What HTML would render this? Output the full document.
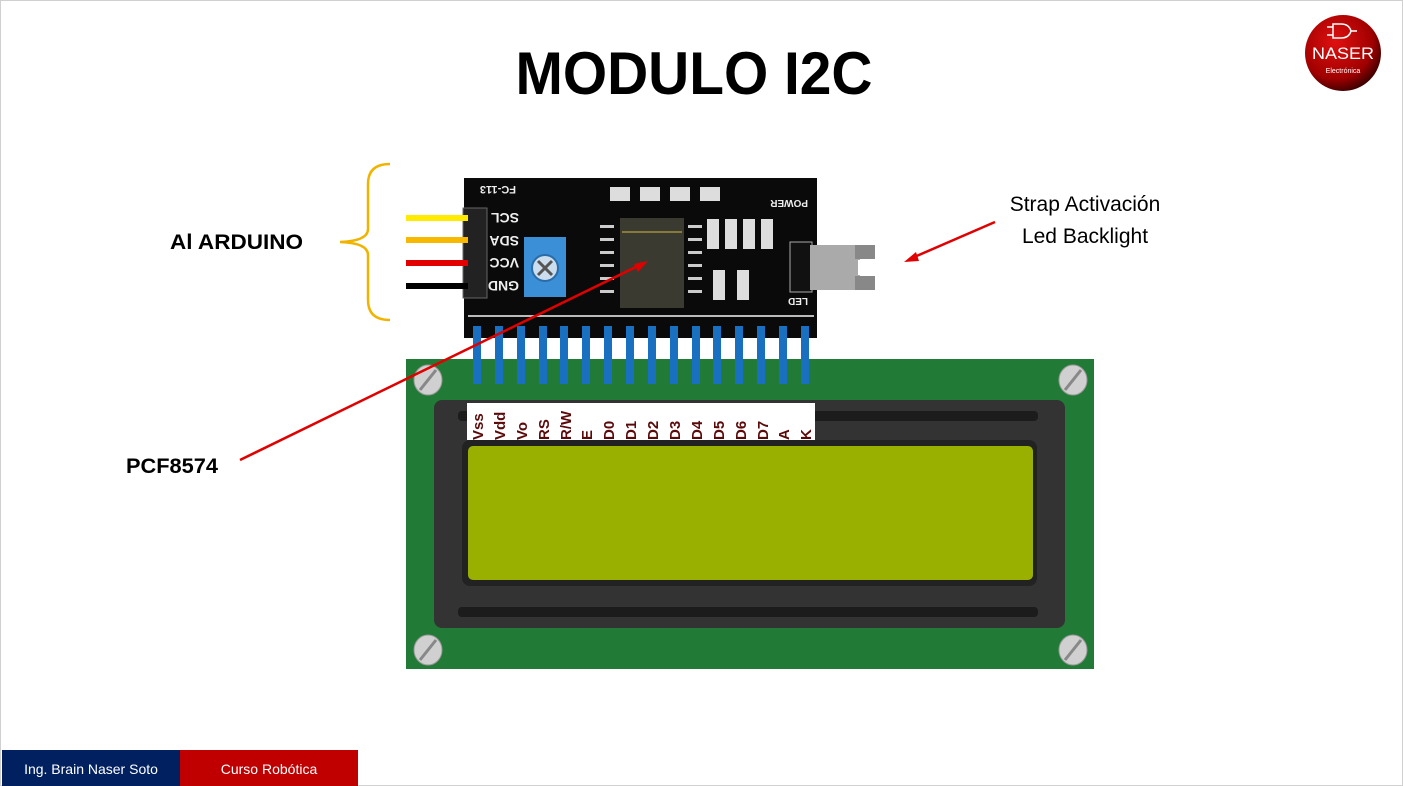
<!DOCTYPE html>
<html><head><meta charset="utf-8"><style>
html,body{margin:0;padding:0;background:#fff}
svg{display:block}
text{font-family:"Liberation Sans",sans-serif}
</style></head><body>
<svg width="1403" height="786" viewBox="0 0 1403 786" xmlns="http://www.w3.org/2000/svg">
<rect x="0.5" y="0.5" width="1402" height="785" fill="#fff" stroke="#d0d0d0"/>
<text x="694" y="94" text-anchor="middle" font-size="60" font-weight="bold" textLength="357" lengthAdjust="spacingAndGlyphs">MODULO I2C</text>
<defs><radialGradient id="lg" cx="0.4" cy="0.35" r="0.7"><stop offset="0" stop-color="#e01010"/><stop offset="0.7" stop-color="#a00000"/><stop offset="1" stop-color="#300000"/></radialGradient></defs>
<circle cx="1343" cy="53" r="38" fill="url(#lg)"/>
<path d="M1333 24 h8 q8 0 10 7 q-2 7 -10 7 h-8 z M1327 27 h6 M1327 35 h6 M1351 31 h6" stroke="#fff" stroke-width="1.5" fill="none"/>
<text x="1343" y="59" text-anchor="middle" font-size="17" fill="#fff" textLength="62" lengthAdjust="spacingAndGlyphs">NASER</text>
<text x="1343" y="73" text-anchor="middle" font-size="7" fill="#fff">Electrónica</text>
<text x="170" y="249" font-size="21" font-weight="bold" textLength="133" lengthAdjust="spacingAndGlyphs">Al ARDUINO</text>
<path d="M390 164 q-22 0 -22 20 v45 q0 12 -28 13 q28 1 28 13 v45 q0 20 22 20" fill="none" stroke="#f0b400" stroke-width="2.5"/>
<text x="126" y="473" font-size="21" font-weight="bold" textLength="92" lengthAdjust="spacingAndGlyphs">PCF8574</text>
<rect x="406" y="359" width="688" height="310" fill="#217b36"/>
<rect x="434" y="400" width="631" height="228" rx="8" fill="#333"/>
<rect x="458" y="411" width="580" height="10" rx="4" fill="#1c1c1c"/>
<rect x="458" y="607" width="580" height="10" rx="4" fill="#1c1c1c"/>
<rect x="462" y="440" width="575" height="146" rx="8" fill="#222"/>
<rect x="468" y="446" width="565" height="134" rx="5" fill="#99b000"/>
<g fill="#d0d0d0" stroke="#999" stroke-width="1">
<ellipse cx="428" cy="380" rx="14" ry="15"/><ellipse cx="1073" cy="380" rx="14" ry="15"/>
<ellipse cx="428" cy="650" rx="14" ry="15"/><ellipse cx="1073" cy="650" rx="14" ry="15"/>
</g>
<g stroke="#888" stroke-width="3">
<line x1="420" y1="390" x2="436" y2="370"/><line x1="1065" y1="390" x2="1081" y2="370"/>
<line x1="420" y1="660" x2="436" y2="640"/><line x1="1065" y1="660" x2="1081" y2="640"/>
</g>
<rect x="467" y="403" width="348" height="37" fill="#fff"/>
<g font-size="15" font-weight="bold" fill="#5a0a0a">
<text transform="translate(483,440) rotate(-90)">Vss</text>
<text transform="translate(505,440) rotate(-90)">Vdd</text>
<text transform="translate(527,440) rotate(-90)">Vo</text>
<text transform="translate(549,440) rotate(-90)">RS</text>
<text transform="translate(571,440) rotate(-90)">R/W</text>
<text transform="translate(592,440) rotate(-90)">E</text>
<text transform="translate(614,440) rotate(-90)">D0</text>
<text transform="translate(636,440) rotate(-90)">D1</text>
<text transform="translate(658,440) rotate(-90)">D2</text>
<text transform="translate(680,440) rotate(-90)">D3</text>
<text transform="translate(702,440) rotate(-90)">D4</text>
<text transform="translate(724,440) rotate(-90)">D5</text>
<text transform="translate(746,440) rotate(-90)">D6</text>
<text transform="translate(768,440) rotate(-90)">D7</text>
<text transform="translate(789,440) rotate(-90)">A</text>
<text transform="translate(811,440) rotate(-90)">K</text>
</g>
<rect x="464" y="178" width="353" height="160" fill="#0a0a0a"/>
<line x1="468" y1="316" x2="814" y2="316" stroke="#bbb" stroke-width="2"/>
<rect x="463" y="208" width="24" height="90" fill="#222" stroke="#666"/>
<g font-size="14" font-weight="bold" fill="#eee">
<text transform="translate(519,213) rotate(180)">SCL</text>
<text transform="translate(519,236) rotate(180)">SDA</text>
<text transform="translate(519,258) rotate(180)">VCC</text>
<text transform="translate(519,281) rotate(180)">GND</text>
<text transform="translate(516,186) rotate(180)" font-size="11">FC-113</text>
<text transform="translate(808,200) rotate(180)" font-size="10">POWER</text>
<text transform="translate(808,298) rotate(180)" font-size="10">LED</text>
</g>
<rect x="524" y="237" width="42" height="60" fill="#3a8fd6"/>
<circle cx="545" cy="268" r="13" fill="#cde" stroke="#2a6ca8" stroke-width="2"/>
<path d="M538 261 l14 14 M552 261 l-14 14" stroke="#555" stroke-width="3"/>
<rect x="620" y="218" width="64" height="90" fill="#3a3a30"/>
<line x1="622" y1="232" x2="682" y2="232" stroke="#a0903a" stroke-width="1.5"/>
<g fill="#ccc"><rect x="600" y="225" width="14" height="3"/><rect x="600" y="238" width="14" height="3"/><rect x="600" y="251" width="14" height="3"/><rect x="600" y="264" width="14" height="3"/><rect x="600" y="277" width="14" height="3"/><rect x="600" y="290" width="14" height="3"/>
<rect x="688" y="225" width="14" height="3"/><rect x="688" y="238" width="14" height="3"/><rect x="688" y="251" width="14" height="3"/><rect x="688" y="264" width="14" height="3"/><rect x="688" y="277" width="14" height="3"/><rect x="688" y="290" width="14" height="3"/></g>
<g fill="#ddd"><rect x="610" y="187" width="20" height="14"/><rect x="640" y="187" width="20" height="14"/><rect x="670" y="187" width="20" height="14"/><rect x="700" y="187" width="20" height="14"/>
<rect x="707" y="219" width="12" height="30"/><rect x="725" y="219" width="12" height="30"/><rect x="743" y="219" width="12" height="30"/><rect x="761" y="219" width="12" height="30"/>
<rect x="713" y="270" width="12" height="30"/><rect x="737" y="270" width="12" height="30"/></g>
<rect x="790" y="242" width="22" height="50" fill="#111" stroke="#aaa"/>
<rect x="810" y="245" width="50" height="45" fill="#aaa"/>
<rect x="855" y="245" width="20" height="14" fill="#888"/><rect x="855" y="276" width="20" height="14" fill="#888"/>
<rect x="858" y="260" width="17" height="15" fill="#fff"/>
<rect x="406" y="215" width="62" height="6" fill="#ffea00"/>
<rect x="406" y="237" width="62" height="6" fill="#f8b800"/>
<rect x="406" y="260" width="62" height="6" fill="#e30000"/>
<rect x="406" y="283" width="62" height="6" fill="#000"/>
<g fill="#1a70c0">
<rect x="473" y="326" width="8" height="58"/><rect x="495" y="326" width="8" height="58"/><rect x="517" y="326" width="8" height="58"/><rect x="539" y="326" width="8" height="58"/>
<rect x="560" y="326" width="8" height="58"/><rect x="582" y="326" width="8" height="58"/><rect x="604" y="326" width="8" height="58"/><rect x="626" y="326" width="8" height="58"/>
<rect x="648" y="326" width="8" height="58"/><rect x="670" y="326" width="8" height="58"/><rect x="692" y="326" width="8" height="58"/><rect x="713" y="326" width="8" height="58"/>
<rect x="735" y="326" width="8" height="58"/><rect x="757" y="326" width="8" height="58"/><rect x="779" y="326" width="8" height="58"/><rect x="801" y="326" width="8" height="58"/>
</g>
<line x1="240" y1="460" x2="640" y2="265" stroke="#e00000" stroke-width="2.5"/>
<polygon points="648,261 634,264 638,272" fill="#e00000"/>
<line x1="995" y1="222" x2="912" y2="258" stroke="#e00000" stroke-width="2.5"/>
<polygon points="904,262 916,252 919,261" fill="#e00000"/>
<text x="1085" y="211" text-anchor="middle" font-size="21">Strap Activación</text>
<text x="1085" y="243" text-anchor="middle" font-size="21">Led Backlight</text>
<rect x="2" y="750" width="178" height="36" fill="#002060"/>
<rect x="180" y="750" width="178" height="36" fill="#c00000"/>
<text x="91" y="774" text-anchor="middle" font-size="14" fill="#fff">Ing. Brain Naser Soto</text>
<text x="269" y="774" text-anchor="middle" font-size="14" fill="#fff">Curso Robótica</text>
</svg>
</body></html>
